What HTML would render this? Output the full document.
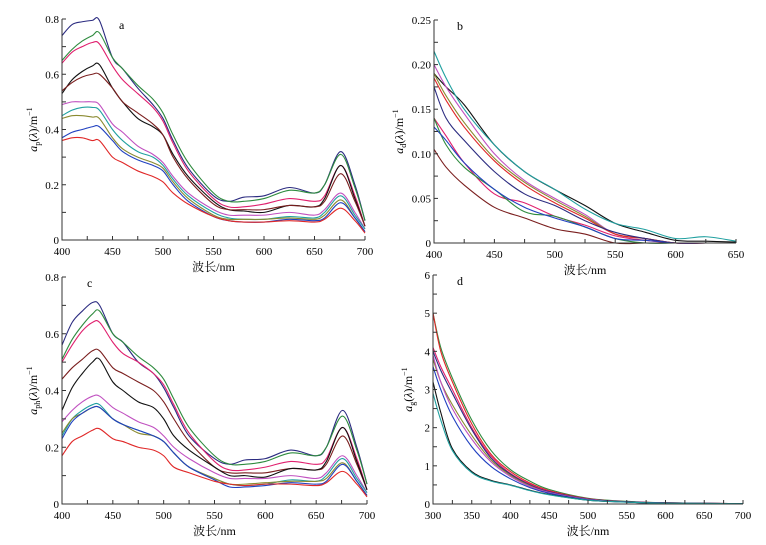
<!DOCTYPE html>
<html><head><meta charset="utf-8"><style>
body{margin:0;background:#fff;width:766px;height:545px;overflow:hidden}
svg{display:block;font-family:"Liberation Serif","Noto Serif CJK SC",serif}
</style></head><body>
<svg id="fig" width="766" height="545" viewBox="0 0 766 545"></svg>
<script>
const colors=["#2b2b80","#2e8b3e","#e0206e","#111111","#7a1e1e","#c050c0","#20a0a0","#8a8a30","#2040c0","#e02828"];
const wlA=[400,410,420,430,437,450,460,475,490,500,510,525,550,565,580,600,625,650,660,676,690,700];
const seriesA=[
[0.74,0.78,0.79,0.795,0.795,0.66,0.62,0.55,0.49,0.44,0.36,0.26,0.16,0.14,0.155,0.16,0.19,0.17,0.2,0.32,0.2,0.07],
[0.65,0.69,0.72,0.74,0.75,0.66,0.62,0.56,0.51,0.46,0.38,0.28,0.17,0.14,0.14,0.15,0.18,0.17,0.2,0.31,0.19,0.07],
[0.64,0.68,0.70,0.715,0.71,0.63,0.58,0.53,0.48,0.43,0.35,0.25,0.15,0.12,0.12,0.13,0.15,0.14,0.16,0.27,0.16,0.05],
[0.53,0.58,0.61,0.63,0.635,0.55,0.5,0.44,0.41,0.38,0.31,0.23,0.14,0.11,0.105,0.1,0.125,0.12,0.15,0.27,0.15,0.05],
[0.54,0.57,0.59,0.6,0.60,0.55,0.50,0.46,0.42,0.38,0.3,0.22,0.13,0.11,0.11,0.11,0.125,0.12,0.14,0.24,0.14,0.05],
[0.49,0.50,0.5,0.5,0.49,0.42,0.39,0.34,0.31,0.28,0.23,0.17,0.11,0.09,0.09,0.09,0.1,0.09,0.11,0.17,0.1,0.04],
[0.45,0.47,0.48,0.48,0.47,0.4,0.36,0.32,0.30,0.27,0.22,0.16,0.1,0.08,0.075,0.075,0.085,0.08,0.1,0.16,0.09,0.04],
[0.44,0.45,0.45,0.445,0.44,0.37,0.33,0.3,0.28,0.26,0.21,0.15,0.09,0.075,0.075,0.075,0.08,0.075,0.09,0.145,0.08,0.03],
[0.37,0.39,0.40,0.41,0.41,0.36,0.32,0.29,0.27,0.25,0.2,0.14,0.085,0.07,0.065,0.065,0.075,0.07,0.08,0.135,0.08,0.03],
[0.36,0.37,0.37,0.36,0.36,0.30,0.28,0.25,0.23,0.21,0.17,0.13,0.085,0.07,0.065,0.065,0.07,0.065,0.075,0.115,0.07,0.025]];
const colorsC=["#2b2b80","#2e8b3e","#e0206e","#7a1e1e","#111111","#c050c0","#20a0a0","#8a8a30","#2040c0","#e02828"];
const seriesC=[
[.56,.64,.68,.71,.70,.60,.57,.50,.46,.41,.34,.24,.16,.14,.155,.16,.19,.17,.2,.33,.2,.07],
[.51,.58,.63,.67,.68,.60,.57,.52,.48,.44,.37,.27,.17,.14,.14,.15,.18,.17,.2,.31,.19,.07],
[.50,.56,.61,.64,.64,.57,.53,.50,.46,.42,.35,.25,.15,.12,.12,.13,.15,.14,.16,.27,.16,.05],
[.44,.48,.51,.54,.54,.48,.46,.43,.40,.36,.30,.22,.13,.11,.11,.11,.125,.12,.14,.24,.14,.05],
[.33,.41,.46,.50,.51,.43,.40,.36,.34,.30,.24,.19,.13,.10,.10,.095,.125,.12,.15,.27,.15,.05],
[.29,.33,.36,.38,.38,.34,.32,.29,.27,.24,.20,.16,.11,.09,.09,.09,.1,.09,.11,.17,.1,.04],
[.24,.30,.33,.35,.35,.30,.28,.26,.24,.22,.18,.13,.09,.07,.065,.07,.085,.08,.1,.16,.09,.04],
[.25,.30,.32,.34,.34,.30,.28,.25,.24,.22,.18,.13,.09,.07,.07,.075,.08,.08,.09,.145,.08,.03],
[.23,.29,.32,.34,.34,.30,.28,.26,.24,.22,.18,.13,.085,.06,.06,.065,.075,.07,.08,.14,.08,.03],
[.17,.22,.24,.26,.265,.23,.22,.20,.19,.17,.13,.11,.08,.07,.065,.07,.07,.065,.075,.115,.07,.025]];
const wlB=[400,410,425,450,475,500,525,550,575,600,625,650];
const colorsB=["#111111","#20a0a0","#c050c0","#8a8a30","#e02828","#2b2b80","#e0206e","#2e8b3e","#2040c0","#7a1e1e"];
const seriesB=[
[.19,.175,.155,.11,.08,.06,.042,.022,.012,.003,.002,.001],
[.215,.185,.15,.11,.08,.06,.038,.022,.015,.005,.007,.002],
[.2,.175,.145,.1,.07,.05,.032,.01,.005,0,0,0],
[.19,.165,.135,.095,.068,.048,.03,.01,.005,0,0,0],
[.185,.16,.13,.092,.065,.045,.028,.01,.005,0,0,0],
[.175,.14,.115,.08,.055,.042,.025,.012,.005,0,0,0],
[.14,.12,.09,.055,.045,.03,.02,.008,.003,0,0,0],
[.14,.11,.085,.06,.035,.03,.018,.005,0,0,0,0],
[.13,.115,.09,.06,.04,.028,.018,.005,.003,0,0,0],
[.105,.085,.065,.04,.028,.016,.01,0,0,0,0,0]];
const wlD=[300,310,325,350,375,400,425,450,500,550,600,700];
const colorsD=["#2e8b3e","#e02828","#e0206e","#2b2b80","#8a8a30","#c050c0","#2040c0","#111111","#20a0a0"];
const seriesD=[
[5.0,4.1,3.3,2.2,1.4,.9,.6,.38,.15,.07,.03,.01],
[5.0,4.0,3.2,2.1,1.3,.85,.55,.35,.14,.06,.03,.01],
[4.1,3.6,3.0,2.0,1.25,.8,.52,.33,.13,.06,.03,.01],
[4.0,3.5,2.9,1.95,1.2,.78,.5,.32,.13,.06,.03,.01],
[3.8,3.2,2.6,1.8,1.15,.75,.48,.3,.12,.05,.02,.01],
[3.9,3.2,2.5,1.7,1.1,.72,.46,.3,.12,.05,.02,.01],
[3.6,3.0,2.3,1.5,.98,.66,.43,.28,.11,.05,.02,.01],
[3.2,2.4,1.45,.85,.62,.5,.36,.25,.1,.05,.02,.01],
[2.9,2.2,1.4,.82,.6,.49,.35,.24,.1,.05,.02,.01]];
const ticksA=["0","0.2","0.4","0.6","0.8"];
const ticksB=["0","0.05","0.10","0.15","0.20","0.25"];
const ticksD=["0","1","2","3","4","5","6"];

const NS="http://www.w3.org/2000/svg";
const svg=document.getElementById('fig');
function mk(tag,attrs,parent){const e=document.createElementNS(NS,tag);for(const k in attrs)e.setAttribute(k,attrs[k]);(parent||svg).appendChild(e);return e;}
function smooth(pts){let d=`M${pts[0][0]},${pts[0][1]}`;for(let i=0;i<pts.length-1;i++){const p0=pts[i-1]||pts[i],p1=pts[i],p2=pts[i+1],p3=pts[i+2]||p2;d+=` C${p1[0]+(p2[0]-p0[0])/6},${p1[1]+(p2[1]-p0[1])/6} ${p2[0]-(p3[0]-p1[0])/6},${p2[1]-(p3[1]-p1[1])/6} ${p2[0]},${p2[1]}`;}return d;}
function panel(o){
  const g=mk('g',{});
  
  
  const sx=v=>o.L+(v-o.x0)/(o.x1-o.x0)*(o.R-o.L);
  const sy=v=>o.B-(v-o.y0)/(o.y1-o.y0)*(o.B-o.T);
  o.series.forEach((s,i)=>{
    const p=mk('path',{d:smooth(s.map((v,j)=>[sx(o.wl[j]),sy(v)])),fill:'none',stroke:o.colors[i],'stroke-width':1.1},g);
    
    
  });
  const ax=mk('path',{d:`M${o.L},${o.T} V${o.B} H${o.R}`,fill:'none',stroke:'#333','stroke-width':1},g);
  
  
  for(let v=o.x0;v<=o.x1+1e-9;v+=o.xminor){mk('line',{x1:sx(v),x2:sx(v),y1:o.B,y2:o.B-4,stroke:'#333'},g);}
  for(let v=o.x0;v<=o.x1+1e-9;v+=o.xmajor){const t=mk('text',{x:sx(v),y:o.B+15,'text-anchor':'middle','font-size':11},g);t.textContent=v;
    }
  for(let v=o.y0;v<=o.y1+1e-9;v+=o.yminor){mk('line',{x1:o.L,x2:o.L+4,y1:sy(v),y2:sy(v),stroke:'#333'},g);}
  o.ticks.forEach(lbl=>{const v=parseFloat(lbl);const t=mk('text',{x:o.L-3,y:sy(v)+4,'text-anchor':'end','font-size':11},g);t.textContent=lbl;
    });
  const xt=mk('text',{x:(o.L+o.R)/2,y:o.B+31,'text-anchor':'middle','font-size':12},g);xt.textContent='波长/nm';
  
  const cy=(o.T+o.B)/2;
  const yt=mk('text',{x:o.ytx,y:cy,'text-anchor':'middle','font-size':12,transform:`rotate(-90 ${o.ytx} ${cy})`},g);
  yt.innerHTML=`<tspan font-style="italic">a</tspan><tspan font-size="8" dy="3">${o.sub}</tspan><tspan dy="-3">(</tspan><tspan font-style="italic">λ</tspan><tspan>)/m</tspan><tspan font-size="8" dy="-5">−1</tspan>`;
  
  const pl=mk('text',{x:o.L+o.lx,y:o.T+10,'font-size':12},g);pl.textContent=o.id;
  
}
panel({id:'a',L:62,R:365,T:19,B:240,x0:400,x1:700,y0:0,y1:0.8,xmajor:50,xminor:25,yminor:0.1,ticks:ticksA,wl:wlA,series:seriesA,colors:colors,sub:'p',ytx:37,lx:57});
panel({id:'b',L:434,R:736,T:20,B:243,x0:400,x1:650,y0:0,y1:0.25,xmajor:50,xminor:25,yminor:0.025,ticks:ticksB,wl:wlB,series:seriesB,colors:colorsB,sub:'d',ytx:403,lx:23});
panel({id:'c',L:62,R:367,T:277,B:504,x0:400,x1:700,y0:0,y1:0.8,xmajor:50,xminor:25,yminor:0.1,ticks:ticksA,wl:wlA,series:seriesC,colors:colorsC,sub:'ph',ytx:37,lx:25});
panel({id:'d',L:433,R:743,T:275,B:504,x0:300,x1:700,y0:0,y1:6,xmajor:50,xminor:25,yminor:0.5,ticks:ticksD,wl:wlD,series:seriesD,colors:colorsD,sub:'g',ytx:412,lx:24});
</script>
</body></html>
